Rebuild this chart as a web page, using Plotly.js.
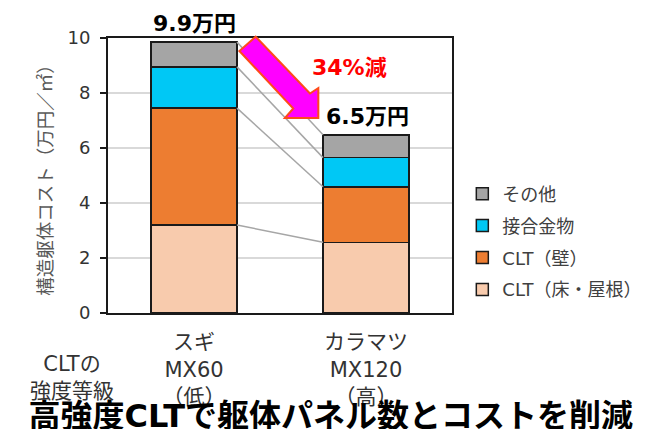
<!DOCTYPE html>
<html>
<head>
<meta charset="utf-8">
<script src="https://cdn.plot.ly/plotly-3.0.1.min.js"></script>
<style>html,body{margin:0;padding:0;background:#fff;}#chart{width:659px;height:429px;}</style>
</head>
<body>
<div id="chart"></div>
<script>
// ---- data ----
var categories = ["スギ<br>MX60<br>（低）", "カラマツ<br>MX120<br>（高）"];
var seriesNames = ["CLT（床・屋根）", "CLT（壁）", "接合金物", "その他"];
var cltFloorRoof = [3.2, 2.57];
var cltWall = [4.25, 2.02];
var joinHardware = [1.5, 1.06];
var others = [0.9, 0.83];
var totalLabels = ["9.9万円", "6.5万円"];
var reductionLabel = "34%減";
var yTicks = [0, 2, 4, 6, 8, 10];

var seriesValues = [cltFloorRoof, cltWall, joinHardware, others];
var seriesColors = ["#F8CBAD", "#ED7D31", "#00C8F5", "#A5A5A5"];

var FONT = "DejaVu Sans, Noto Sans CJK JP, sans-serif";
var xIdx = categories.map(function (c, i) { return i; });
var barWidth = 0.5;

var traces = [];
// connector lines (cumulative boundaries)
var cum = [[0, 0]];
seriesValues.forEach(function (s, k) {
  var prev = cum[cum.length - 1];
  cum.push([prev[0] + s[0], prev[1] + s[1]]);
});
for (var k = 1; k < cum.length; k++) {
  traces.push({
    type: "scatter", mode: "lines",
    x: [xIdx[0] + barWidth / 2, xIdx[1] - barWidth / 2],
    y: [cum[k][0], cum[k][1]],
    line: {color: "#A6A6A6", width: 1.5},
    showlegend: false, hoverinfo: "skip"
  });
}
seriesValues.forEach(function (vals, k) {
  traces.push({
    type: "bar",
    name: seriesNames[k],
    legendgroup: "g" + k,
    legendrank: 1000 - k,
    x: xIdx,
    y: vals,
    width: barWidth,
    marker: {color: seriesColors[k], line: {color: "#1a1a1a", width: 1.5}}
  });
});

var layout = {
  width: 659, height: 429,
  margin: {l: 108, r: 201, t: 38, b: 116, pad: 0},
  paper_bgcolor: "#fff", plot_bgcolor: "#fff",
  barmode: "stack",
  font: {family: FONT, color: "#404040", size: 18},
  title: {
    text: "<b>高強度CLTで躯体パネル数とコストを削減</b>",
    font: {family: FONT, size: 32, color: "#000"},
    x: 0.502, xanchor: "center", xref: "container",
    y: 0.031, yanchor: "middle", yref: "container"
  },
  xaxis: {
    type: "linear", range: [-0.5, 1.5],
    tickvals: xIdx, ticktext: categories,
    showgrid: false, zeroline: false,
    showline: true, linecolor: "#1a1a1a", linewidth: 2, mirror: true,
    ticks: "", tickfont: {size: 21, color: "#333"},
    ticklabelstandoff: 9
  },
  yaxis: {
    range: [0, 10], tickvals: yTicks,
    showgrid: true, gridcolor: "#D9D9D9", gridwidth: 1.5,
    zeroline: false,
    showline: true, linecolor: "#1a1a1a", linewidth: 2, mirror: true,
    ticks: "outside", ticklen: 6, tickwidth: 1.5, tickcolor: "#1a1a1a",
    tickfont: {size: 18, color: "#333"},
    ticklabelstandoff: 6,
    title: {text: "構造躯体コスト（万円／㎡）", font: {size: 18.5, color: "#595959"}, standoff: 10}
  },
  legend: {
    x: 1.03, xanchor: "left", y: 0.5, yanchor: "top",
    traceorder: "grouped", tracegroupgap: 5.5,
    font: {size: 18, color: "#404040"},
    bgcolor: "rgba(0,0,0,0)"
  },
  annotations: [
    {x: xIdx[0], y: 1.0545, xref: "x", yref: "paper", text: "<b>" + totalLabels[0] + "</b>", showarrow: false,
     font: {size: 22, color: "#000"}, xanchor: "center", yanchor: "middle"},
    {x: xIdx[1] + 0.01, y: 7.16, xref: "x", yref: "y", text: "<b>" + totalLabels[1] + "</b>", showarrow: false,
     font: {size: 22, color: "#000"}, xanchor: "center", yanchor: "middle"},
    {x: 0.903, y: 8.93, xref: "x", yref: "y", text: "<b>" + reductionLabel + "</b>", showarrow: false,
     font: {size: 22, color: "#FF0000"}, xanchor: "center", yanchor: "middle"},
    {x: -0.106, y: -0.2345, xref: "paper", yref: "paper", text: "CLTの<br>強度等級", showarrow: false,
     font: {size: 21, color: "#333"}, xanchor: "center", yanchor: "middle"}
  ],
  shapes: [
    {type: "path", xref: "paper", yref: "paper",
     path: "M0.4294,1.0047 L0.5871,0.7982 L0.6114,0.8182 L0.6114,0.7091 L0.5143,0.7091 L0.5386,0.7436 L0.3820,0.9527 Z",
     fillcolor: "#FF00FF", line: {color: "#FF4A1A", width: 2}, layer: "above"}
  ]
};

Plotly.newPlot("chart", traces, layout, {staticPlot: true, displayModeBar: false});
</script>
</body>
</html>
